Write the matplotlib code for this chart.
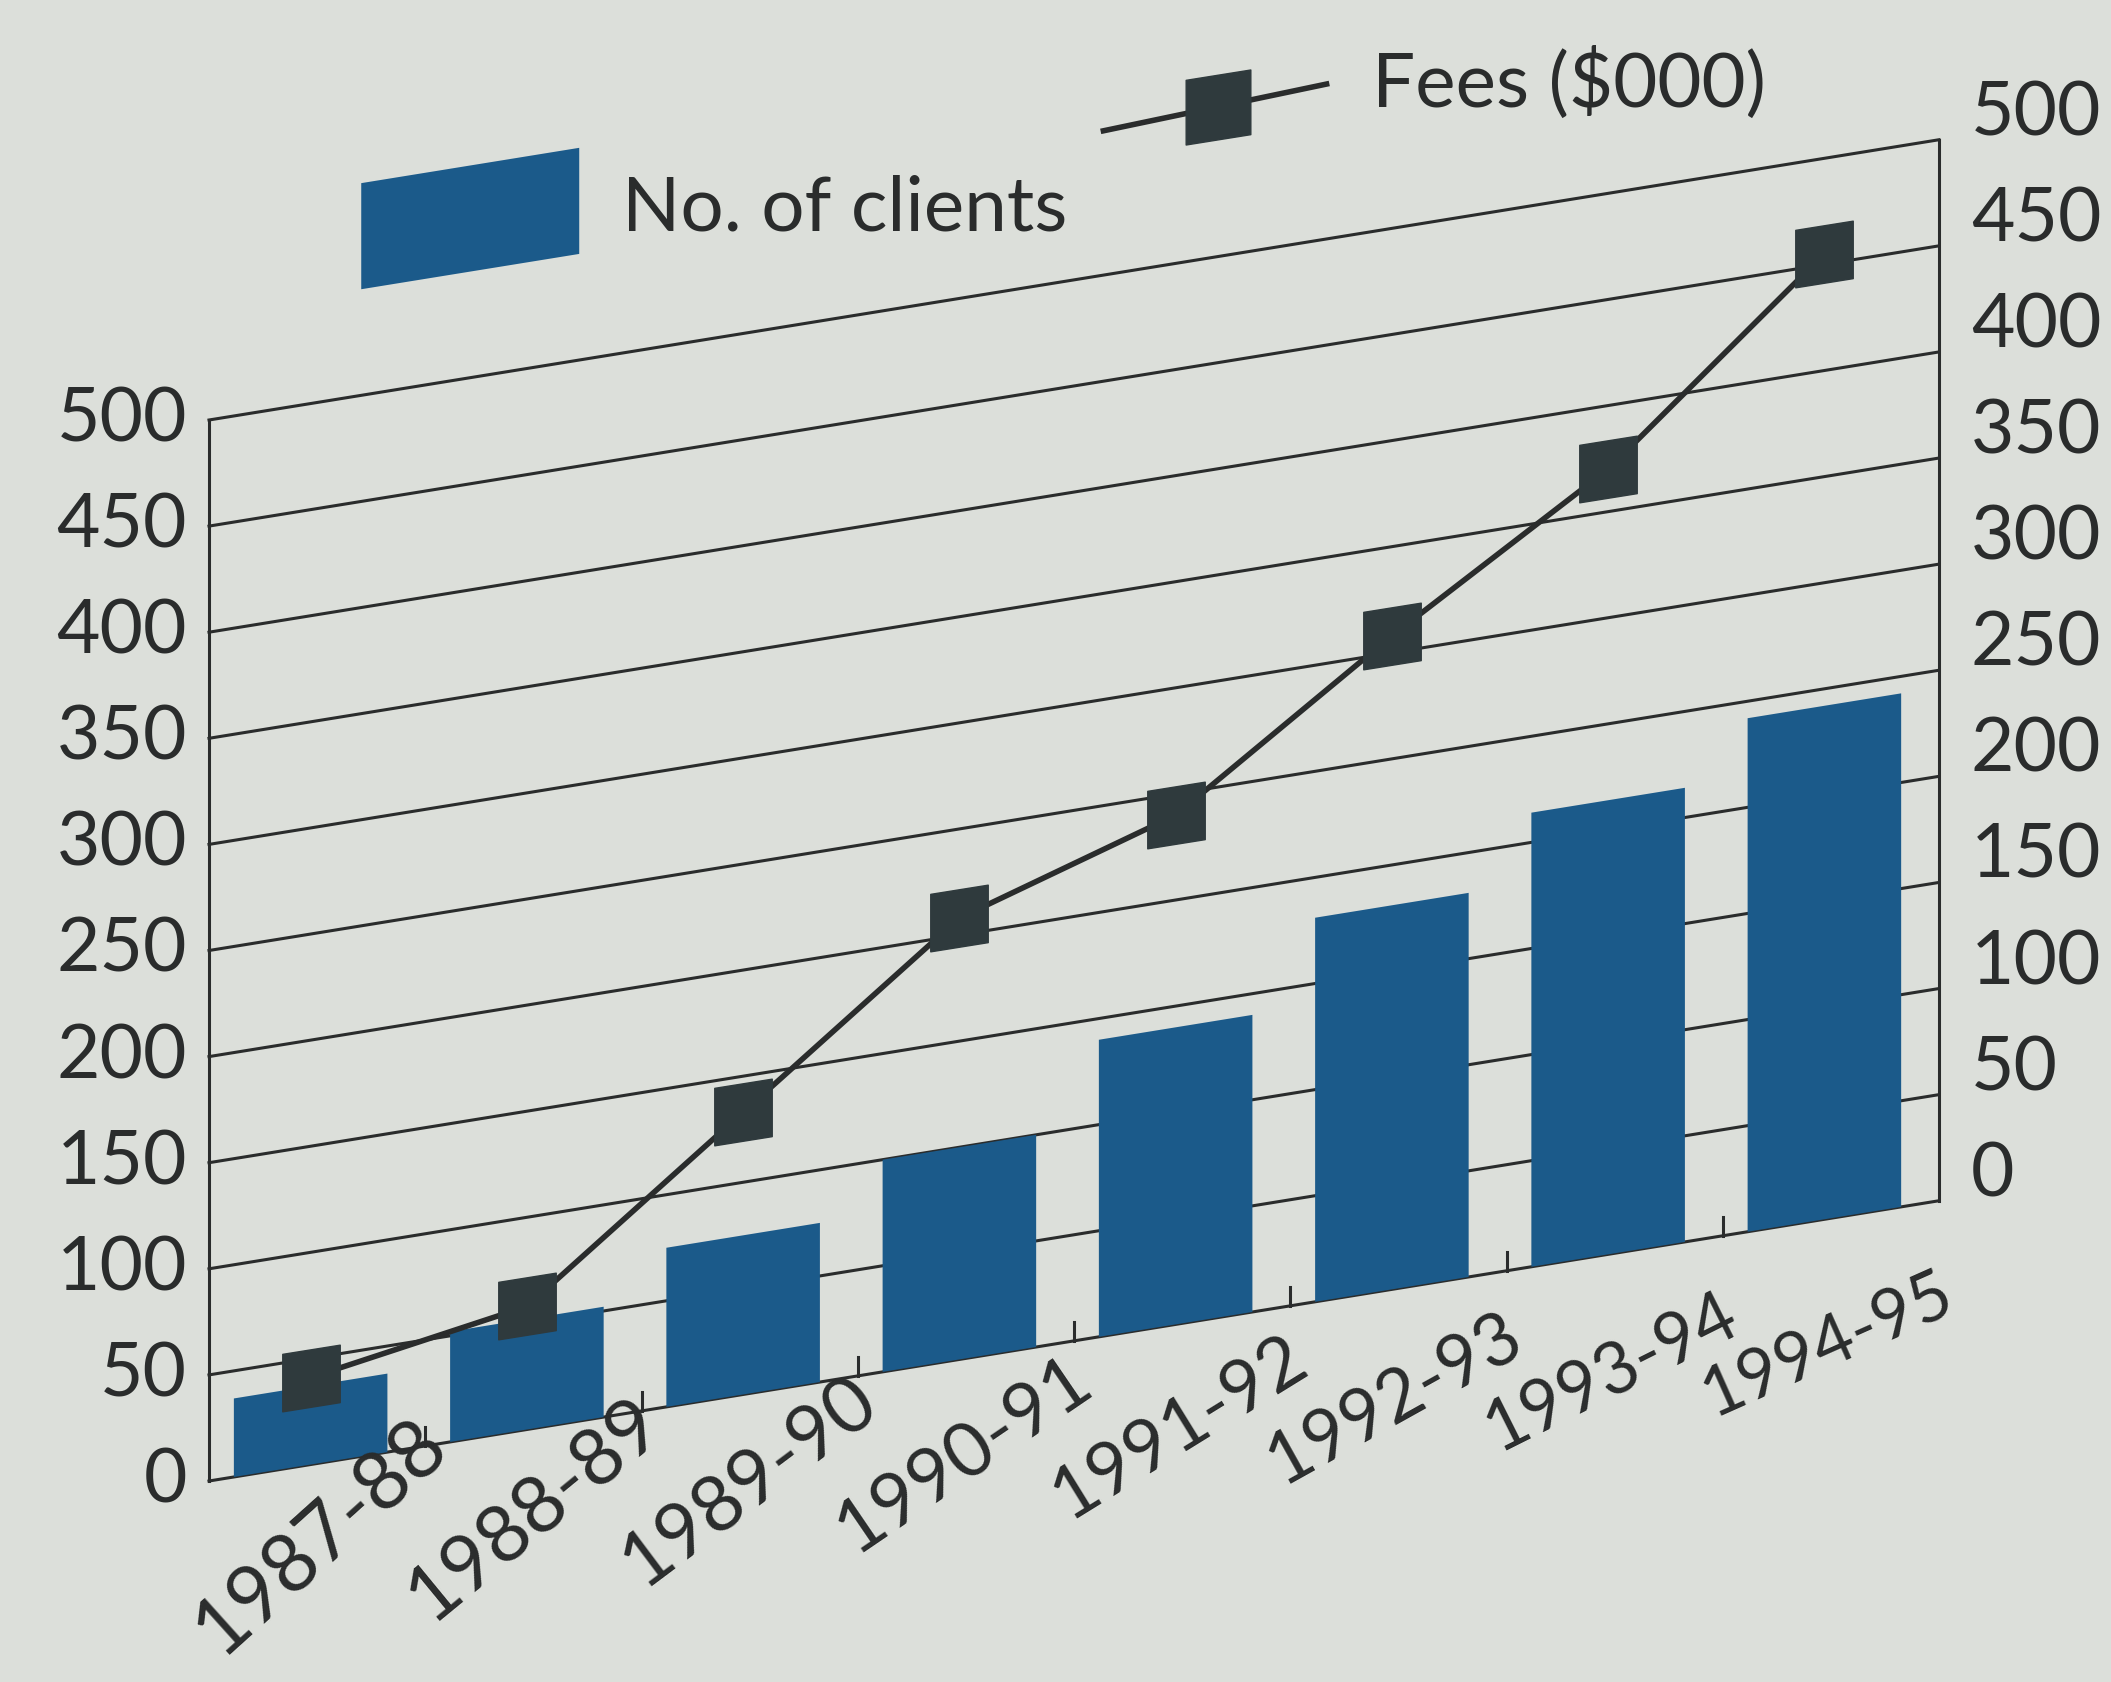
import matplotlib
matplotlib.use("Agg")
import matplotlib.pyplot as plt
from matplotlib.transforms import Affine2D, offset_copy, IdentityTransform
from matplotlib.patches import Polygon
from matplotlib.path import Path

years = ["1987-88", "1988-89", "1989-90", "1990-91",
         "1991-92", "1992-93", "1993-94", "1994-95"]
clients = [37, 52, 75, 100, 140, 181, 214, 242]
fees = [41, 58, 133, 208, 240, 308, 370, 455]
left_ticks = [0, 50, 100, 150, 200, 250, 300, 350, 400, 450, 500]
right_ticks = [0, 50, 100, 150, 200, 250, 300, 350, 400, 450, 500]

BG = "#dcdfda"
BLUE = "#1b5a8a"
INK = "#2a2c2c"
MARK = "#2f3a3d"
FONT = "Lato"

W, H, DPI = 2111, 1682, 100
fig = plt.figure(figsize=(W / DPI, H / DPI), dpi=DPI, facecolor=BG)
left_px, bottom_px, width_px, height_px = 209, 201, 1730, 1061
ax = fig.add_axes([left_px / W, bottom_px / H, width_px / W, height_px / H])
ax.set_axis_off()

# the whole plot area leans upward to the right
SLANT = 0.162
shear = Affine2D.from_values(1, SLANT, 0, 1, 0, -SLANT * left_px)
T = ax.transData + shear
TA = ax.transAxes + shear

x = list(range(len(years)))

# grid lines and frame
for v in left_ticks:
    ax.plot([-0.5, 7.5], [v, v], color=INK, lw=2.2, transform=T, clip_on=False, zorder=1)
ax.plot([-0.5, -0.5], [0, 500], color=INK, lw=2.2, transform=T, clip_on=False, zorder=1)
ax.plot([7.5, 7.5], [0, 500], color=INK, lw=2.2, transform=T, clip_on=False, zorder=1)
for i in range(len(years) - 1):
    ax.plot([i + 0.5, i + 0.5], [0, 9], color=INK, lw=2.2, transform=T, clip_on=False, zorder=1)

ax.bar([i - 0.03 for i in x], clients, width=0.71, color=BLUE, transform=T,
       clip_on=False, zorder=2)

# slanted square marker
s = 0.16
box = Path([(-1, -1 - s), (1, -1 + s), (1, 1 + s), (-1, 1 - s), (-1, -1 - s)],
           [Path.MOVETO, Path.LINETO, Path.LINETO, Path.LINETO, Path.CLOSEPOLY])
ax.plot([i - 0.03 for i in x], fees, color=INK, lw=4, marker=box, markersize=48,
        markerfacecolor=MARK, markeredgecolor=MARK, transform=T, clip_on=False, zorder=3)

ax.set_xlim(-0.5, 7.5)
ax.set_ylim(0, 500)

# axis labels
lt = offset_copy(T, fig=fig, x=-22, y=0, units="dots")
for v in left_ticks:
    ax.text(-0.5, v, str(v), transform=lt, ha="right", va="center",
            fontsize=54, family=FONT, color=INK)
rt = offset_copy(T, fig=fig, x=32, y=26, units="dots")
for v in right_ticks:
    ax.text(7.5, v, str(v), transform=rt, ha="left", va="center",
            fontsize=54, family=FONT, color=INK)

# year labels run along a shallower line than the base, flattening to the right
fig.canvas.draw()
n = len(years) - 1
for i, lab in enumerate(years):
    px, _ = T.transform((i + 0.55, 0))
    py = bottom_px + 0.094 * (px - left_px) + 26
    rot = 42 - 18 * i / n
    size = 58 - 8 * i / n
    ax.text(px, py, lab, transform=IdentityTransform(), ha="right", va="center",
            rotation=rot, rotation_mode="anchor", fontsize=size, family=FONT, color=INK)

# legend
ax.add_patch(Polygon([(0.088, 1.10), (0.214, 1.10), (0.214, 1.20), (0.088, 1.20)],
                     closed=True, facecolor=BLUE, edgecolor="none",
                     transform=TA, clip_on=False))
ax.text(0.239, 1.136, "No. of clients", transform=TA, ha="left", va="center",
        fontsize=55, family=FONT, color=INK)
ax.plot([0.517, 0.646], [1.136, 1.146], color=INK, lw=4, transform=TA, clip_on=False)
ax.plot([0.583], [1.141], marker=box, markersize=54, color=MARK, transform=TA, clip_on=False)
ax.text(0.672, 1.14, "Fees ($000)", transform=TA, ha="left", va="center",
        fontsize=55, family=FONT, color=INK)

fig.savefig("out.png", dpi=DPI, facecolor=BG)
